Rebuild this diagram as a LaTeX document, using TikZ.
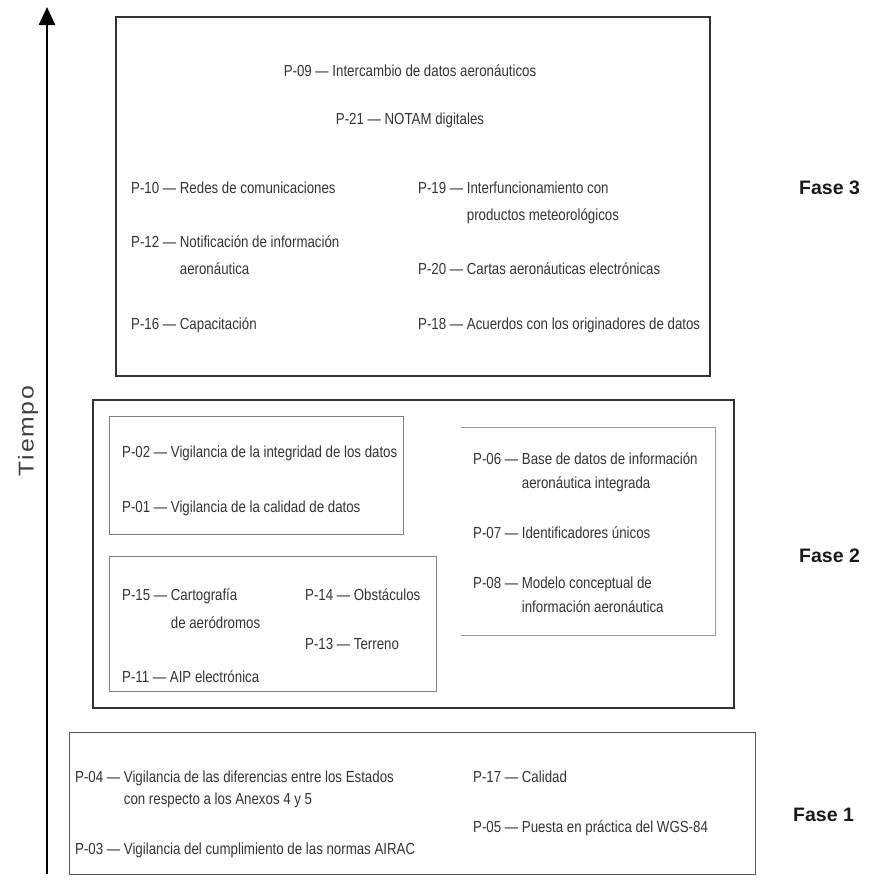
\documentclass[tikz,border=0pt]{standalone}
\usepackage{fontspec}
\setmainfont[FakeStretch=0.83]{Liberation Sans}
\newfontfamily\fasefont{Liberation Sans}
\newfontfamily\tiempofont[FakeStretch=1.15,LetterSpace=8]{Liberation Sans}
\usetikzlibrary{arrows.meta}
\newcommand\pit[3]{\begin{tabular}[t]{@{}l@{}l@{}}#1~—~\mbox{}&#2\\&#3\end{tabular}}
\tikzset{
  itm/.style={anchor=base west, inner sep=0pt, text=black!80},
  fthree/.style={itm, font=\fontsize{16}{27}\selectfont},
  ftwo/.style={itm, font=\fontsize{16}{24}\selectfont},
  fone/.style={itm, font=\fontsize{16}{22}\selectfont},
  faselbl/.style={anchor=base west, inner sep=0pt, text=black!90, font=\fasefont\bfseries\fontsize{19.5}{20}\selectfont},
  thickbox/.style={draw=black!80, line width=2pt, anchor=north west, inner sep=0pt},
  thinbox/.style={draw=black!50, line width=1pt, anchor=north west, inner sep=0pt},
  lightbox/.style={draw=black!40, line width=1pt},
  midbox/.style={draw=black!65, line width=1.2pt, anchor=north west, inner sep=0pt},
  timearrow/.style={line width=2.5pt, -{Triangle[length=18pt,width=16pt]}}
}
\begin{document}
\begin{tikzpicture}[x=1pt,y=-1pt]
\useasboundingbox (0,0) rectangle (884,887);
% time axis
\coordinate (tbot) at (47,874);
\coordinate (ttop) at (47,7);
\draw[timearrow] (tbot) -- (ttop);
\node[rotate=90, inner sep=0pt, text=black!75, font=\tiempofont\fontsize{21.5}{22}\selectfont] (tiempo) at (28,431) {Tiempo};

% ---------- Fase 3 ----------
\node[thickbox, minimum width=594pt, minimum height=359pt] (f3box) at (115,16) {};
\node[fthree, anchor=base] (p09) at (410,76) {P-09~—~Intercambio de datos aeronáuticos};
\node[fthree, anchor=base] (p21) at (410,124) {P-21~—~NOTAM digitales};
\node[fthree] (p10) at (131,193) {P-10~—~Redes de comunicaciones};
\node[fthree] (p12) at (131,247) {\pit{P-12}{Notificación de información}{aeronáutica}};
\node[fthree] (p16) at (131,329) {P-16~—~Capacitación};
\node[fthree] (p19) at (418,193) {\pit{P-19}{Interfuncionamiento con}{productos meteorológicos}};
\node[fthree] (p20) at (418,274) {P-20~—~Cartas aeronáuticas electrónicas};
\node[fthree] (p18) at (418,329) {P-18~—~Acuerdos con los originadores de datos};
\node[faselbl] (fase3) at (799,194) {Fase 3};

% ---------- Fase 2 ----------
\node[thickbox, minimum width=641pt, minimum height=308pt] (f2box) at (92,399) {};
\node[thinbox, minimum width=294pt, minimum height=118pt] (f2a) at (109,416) {};
\node[thinbox, minimum width=327pt, minimum height=135pt] (f2b) at (109,556) {};
\draw[lightbox] (461,427) -| (715,635) -- (461,635);
\node[ftwo] (p02) at (122,457) {P-02~—~Vigilancia de la integridad de los datos};
\node[ftwo] (p01) at (122,512) {P-01~—~Vigilancia de la calidad de datos};
\node[itm, font=\fontsize{16}{28}\selectfont] (p15) at (122,600) {\pit{P-15}{Cartografía}{de aeródromos}};
\node[ftwo] (p14) at (305,600) {P-14~—~Obstáculos};
\node[ftwo] (p13) at (305,649) {P-13~—~Terreno};
\node[ftwo] (p11) at (122,682) {P-11~—~AIP electrónica};
\node[ftwo] (p06) at (473,464) {\pit{P-06}{Base de datos de información}{aeronáutica integrada}};
\node[ftwo] (p07) at (473,538) {P-07~—~Identificadores únicos};
\node[ftwo] (p08) at (473,588) {\pit{P-08}{Modelo conceptual de}{información aeronáutica}};
\node[faselbl] (fase2) at (799,562) {Fase 2};

% ---------- Fase 1 ----------
\node[midbox, minimum width=686pt, minimum height=142pt] (f1box) at (69,732) {};
\node[fone] (p04) at (75,782) {\pit{P-04}{Vigilancia de las diferencias entre los Estados}{con respecto a los Anexos 4 y 5}};
\node[fone] (p03) at (75,854) {P-03~—~Vigilancia del cumplimiento de las normas AIRAC};
\node[fone] (p17) at (473,782) {P-17~—~Calidad};
\node[fone] (p05) at (473,832) {P-05~—~Puesta en práctica del WGS-84};
\node[faselbl] (fase1) at (793,821) {Fase 1};
\end{tikzpicture}
\end{document}
